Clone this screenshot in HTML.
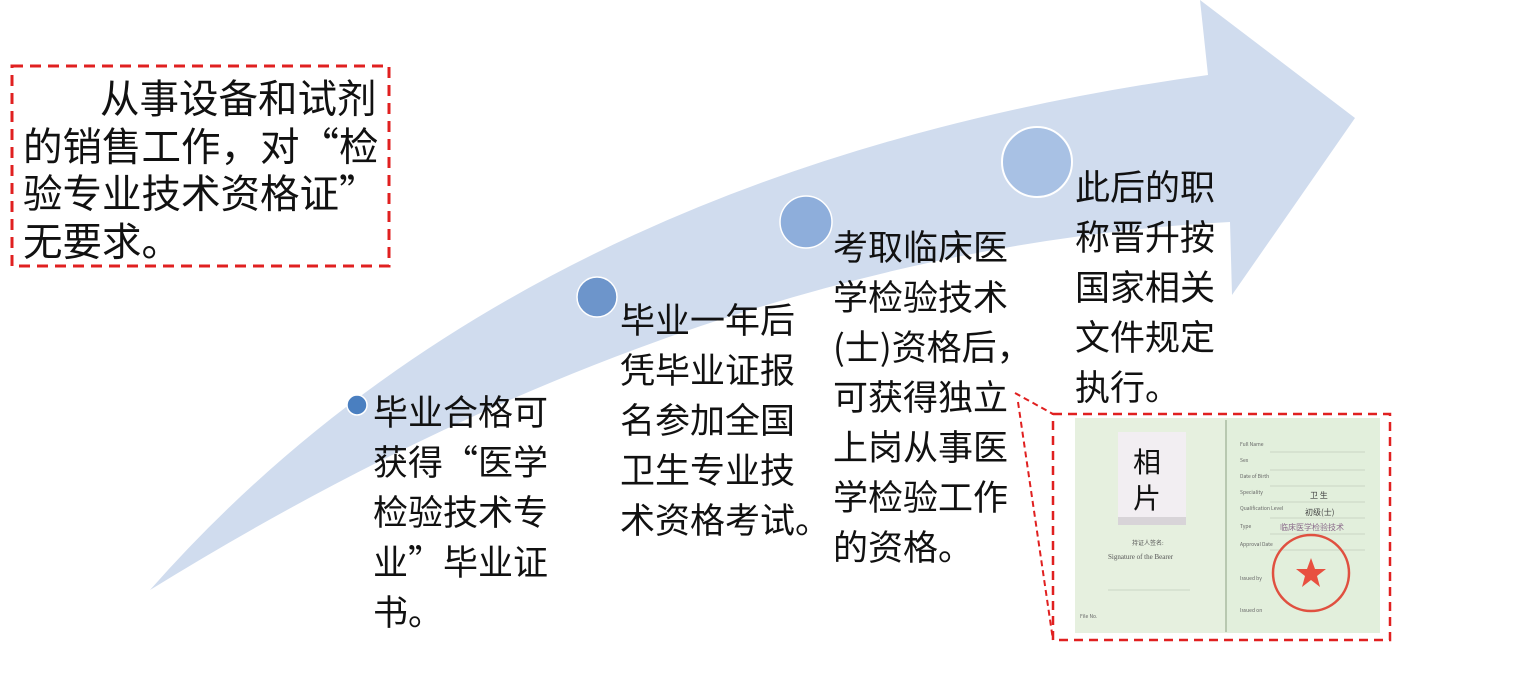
<!DOCTYPE html>
<html><head><meta charset="utf-8"><style>
html,body{margin:0;padding:0;background:#fff;}
body{width:1525px;height:674px;position:relative;overflow:hidden;font-family:"Noto Sans CJK SC","Liberation Sans",sans-serif;color:#111;}
.t{position:absolute;white-space:nowrap;line-height:1;}
.a{font-size:39.5px;}
.b{font-size:35px;}
</style></head><body>
<svg width="1525" height="674" style="position:absolute;left:0;top:0">
<path d="M150,590 Q520,170 1208,75 L1200,0 L1355,118 L1232,295 L1230,222 Q700,250 150,590 Z" fill="#d0dcee"/>
<circle cx="357" cy="405" r="10" fill="#4a7fc0" stroke="#fff" stroke-width="1.5"/>
<circle cx="597" cy="297" r="20" fill="#6d95cb" stroke="#fff" stroke-width="1.5"/>
<circle cx="806" cy="222" r="26" fill="#8eaedb" stroke="#fff" stroke-width="1.5"/>
<circle cx="1037" cy="162" r="35" fill="#a8c1e4" stroke="#fff" stroke-width="2"/>
<rect x="12" y="66" width="377" height="200" fill="#fff" stroke="#e02020" stroke-width="3" stroke-dasharray="11,7"/>
<line x1="1015" y1="393" x2="1053" y2="414" stroke="#e02020" stroke-width="2" stroke-dasharray="6,4"/>
<line x1="1018" y1="402" x2="1053" y2="640" stroke="#e02020" stroke-width="2" stroke-dasharray="6,4"/>
<rect x="1075" y="418" width="305" height="215" fill="#e2efdc"/>
<rect x="1075" y="418" width="150" height="215" fill="#e6f0df"/>
<line x1="1226" y1="420" x2="1226" y2="632" stroke="#b8c8b0" stroke-width="2"/>
<rect x="1118" y="432" width="68" height="85" fill="#f2eef2"/>
<rect x="1118" y="517" width="68" height="8" fill="#d8d4d8"/>
<g stroke="#c9d6c4" stroke-width="1">
<line x1="1270" y1="452" x2="1365" y2="452"/><line x1="1270" y1="470" x2="1365" y2="470"/>
<line x1="1270" y1="486" x2="1365" y2="486"/><line x1="1270" y1="502" x2="1365" y2="502"/>
<line x1="1270" y1="518" x2="1365" y2="518"/><line x1="1270" y1="534" x2="1365" y2="534"/>
<line x1="1270" y1="550" x2="1365" y2="550"/><line x1="1108" y1="590" x2="1190" y2="590"/>
</g>
<text x="1132" y="545" font-size="6" fill="#555" font-family="Liberation Serif">持证人签名:</text>
<text x="1108" y="559" font-size="7" fill="#555" font-family="Liberation Serif">Signature of the Bearer</text>
<text x="1240" y="446" font-size="5" fill="#666">Full Name</text>
<text x="1240" y="462" font-size="5" fill="#666">Sex</text>
<text x="1240" y="478" font-size="5" fill="#666">Date of Birth</text>
<text x="1240" y="494" font-size="5" fill="#666">Speciality</text>
<text x="1240" y="510" font-size="5" fill="#666">Qualification Level</text>
<text x="1240" y="528" font-size="5" fill="#666">Type</text>
<text x="1240" y="546" font-size="5" fill="#666">Approval Date</text>
<text x="1240" y="580" font-size="5" fill="#666">Issued by</text>
<text x="1240" y="612" font-size="5" fill="#666">Issued on</text>
<text x="1080" y="618" font-size="5" fill="#666">File No.</text>
<text x="1310" y="498" font-size="8" fill="#444">卫 生</text>
<text x="1305" y="515" font-size="8" fill="#444">初级(士)</text>
<text x="1280" y="530" font-size="8" fill="#8a6a8a">临床医学检验技术</text>
<circle cx="1311" cy="573" r="38" fill="none" stroke="#e05040" stroke-width="2.5"/>
<polygon points="1311,558 1315,569 1326,569 1317,576 1320,587 1311,580 1302,587 1305,576 1296,569 1307,569" fill="#e85040"/>
<rect x="1053" y="414" width="337" height="226" fill="none" stroke="#e02020" stroke-width="2.5" stroke-dasharray="9,6"/>
</svg>
<div class="t" style="left:1133px;top:443px;font-size:28px;line-height:36px;color:#111">相<br>片</div>

<div class="t a" style="left:100px;top:77px">从事设备和试剂</div>
<div class="t a" style="left:23px;top:125px">的销售工作，对“检</div>
<div class="t a" style="left:23px;top:172px">验专业技术资格证”</div>
<div class="t a" style="left:23px;top:220px">无要求。</div>

<div class="t b" style="left:373px;top:386px;line-height:50px">毕业合格可<br>获得“医学<br>检验技术专<br>业”毕业证<br>书。</div>
<div class="t b" style="left:620px;top:294px;line-height:50px">毕业一年后<br>凭毕业证报<br>名参加全国<br>卫生专业技<br>术资格考试。</div>
<div class="t b" style="left:833px;top:221px;line-height:50px">考取临床医<br>学检验技术<br>(士)资格后，<br>可获得独立<br>上岗从事医<br>学检验工作<br>的资格。</div>
<div class="t b" style="left:1075px;top:161px;line-height:50px">此后的职<br>称晋升按<br>国家相关<br>文件规定<br>执行。</div>
</body></html>
